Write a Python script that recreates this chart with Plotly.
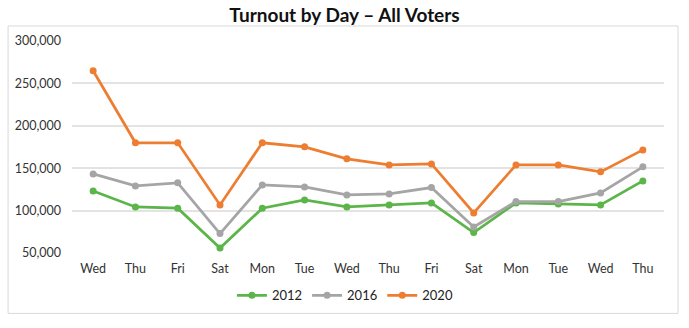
import plotly.graph_objects as go

days = ["Wed", "Thu", "Fri", "Sat", "Mon", "Tue", "Wed", "Thu", "Fri", "Sat", "Mon", "Tue", "Wed", "Thu"]
v2012 = [123200, 104300, 102800, 55900, 102800, 112600, 104300, 106700, 109000, 74100, 109000, 107900, 106700, 135000]
v2016 = [143300, 129100, 132700, 72900, 130300, 127900, 118500, 119700, 127200, 80700, 110700, 110700, 120900, 151600]
v2020 = [265000, 180000, 180000, 106700, 180000, 175200, 161000, 153900, 155100, 97200, 153900, 153900, 145700, 171600]
y_ticks = [50000, 100000, 150000, 200000, 250000, 300000]

series = [("2012", v2012, "#5BB548"), ("2016", v2016, "#A5A5A5"), ("2020", v2020, "#ED7D31")]
xs = list(range(len(days)))

fig = go.Figure()
for name, vals, col in series:
    fig.add_trace(go.Scatter(x=xs, y=vals, name=name, mode="lines+markers",
                             line=dict(color=col, width=2.75),
                             marker=dict(color=col, size=7)))

fig.update_layout(
    width=689, height=328,
    margin=dict(l=72, r=25, t=41, b=75),
    paper_bgcolor="white", plot_bgcolor="white",
    font=dict(family="Lato", size=12.5, color="#333333"),
    title=dict(text="<b>Turnout by Day – All Voters</b>", x=0.5, xanchor="center",
               y=1 - 15/328, yanchor="middle", font=dict(size=19, color="#111111")),
    xaxis=dict(tickmode="array", tickvals=xs, ticktext=days, range=[-0.5, 13.5],
               showgrid=False, zeroline=False, showline=False, ticks="", ticklabelstandoff=6),
    yaxis=dict(range=[50000, 300000], tickvals=y_ticks, tickformat=",", showgrid=True,
               gridcolor="#E3E3E3", gridwidth=1.5, zeroline=False, showline=False, ticks="",
               ticklabelstandoff=10),
    legend=dict(orientation="h", x=0.461, xanchor="center", y=-0.2, yanchor="middle",
                font=dict(size=13, color="#222222"), itemwidth=30, tracegroupgap=0),
    shapes=[dict(type="rect", xref="paper", yref="paper", x0=-0.108, x1=1.0236, y0=-0.2848, y1=1.0709,
                 line=dict(color="#D9D9D9", width=1), layer="below")],
)

fig.write_html("out.html")
